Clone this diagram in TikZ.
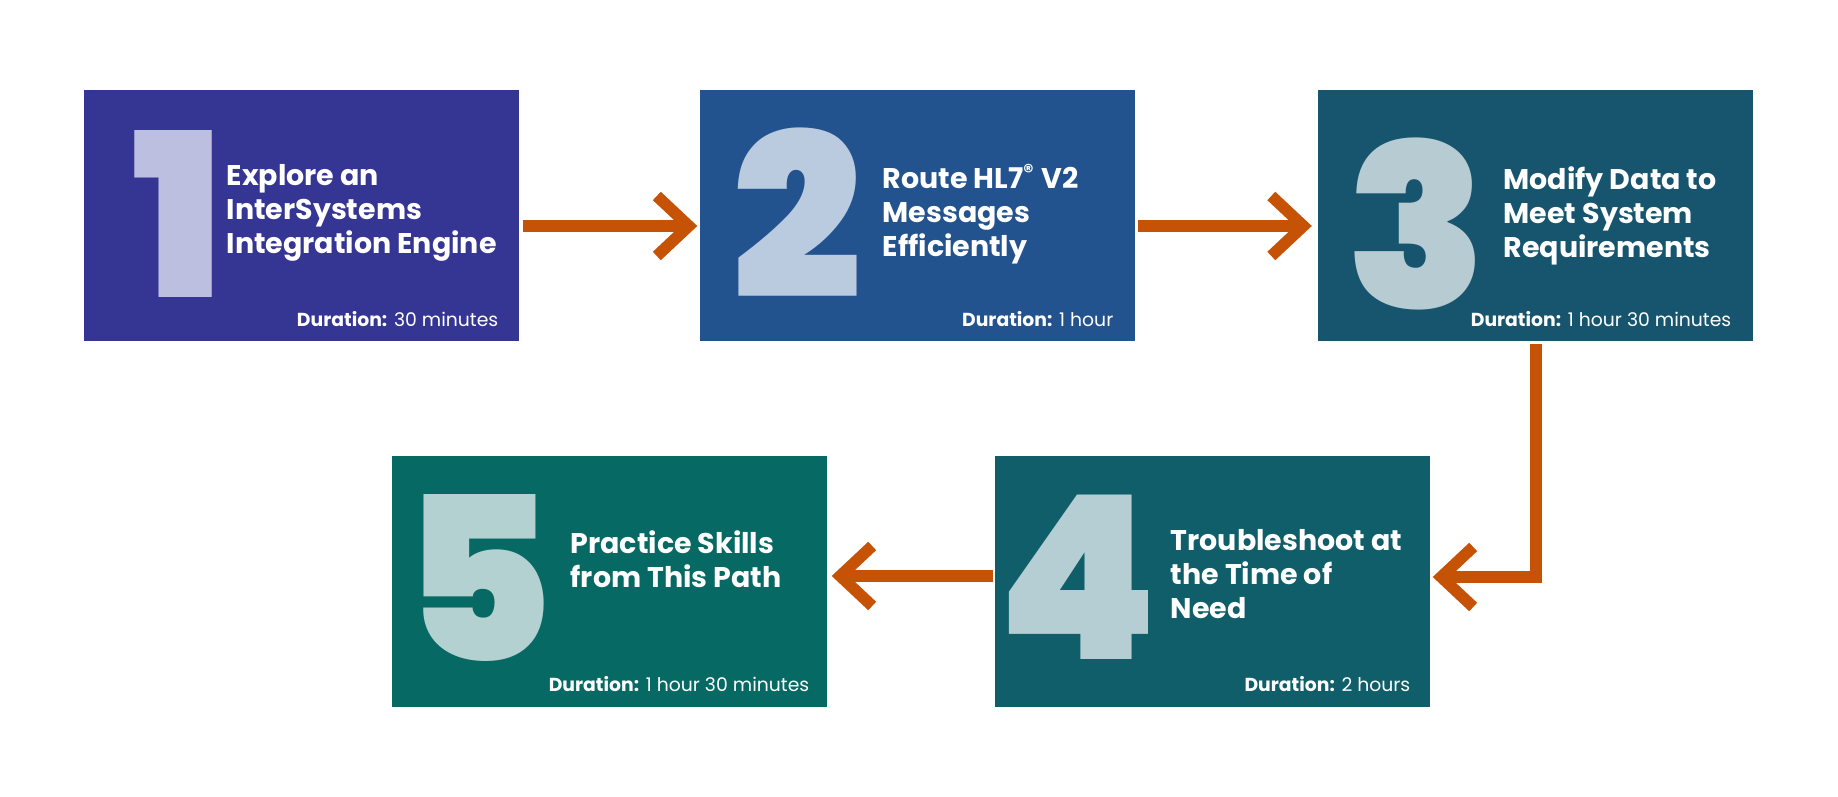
\documentclass[tikz,border=0pt]{standalone}
\usepackage{fontspec}
\setmainfont{Poppins}
\IfFontExistsTF{Poppins Black}
  {\newfontfamily\numfont{Poppins Black}}
  {\newcommand\numfont{\bfseries}}
\usetikzlibrary{arrows.meta}

\definecolor{boxone}{HTML}{353593}
\definecolor{boxtwo}{HTML}{22538F}
\definecolor{boxthree}{HTML}{17556F}
\definecolor{boxfour}{HTML}{0F5E6A}
\definecolor{boxfive}{HTML}{076964}
\definecolor{numone}{HTML}{BDBFE0}
\definecolor{numtwo}{HTML}{BACADF}
\definecolor{numthree}{HTML}{B7CBD2}
\definecolor{numfour}{HTML}{B5CED3}
\definecolor{numfive}{HTML}{B3D1D1}
\definecolor{flowrust}{HTML}{C55205}

\tikzset{
  box/.style = {rectangle, minimum width = 4.35cm, minimum height = 2.51cm, inner sep = 0pt},
  bignum/.style = {anchor = base west, inner sep = 0pt, font = \numfont\fontsize{65}{65}\selectfont},
  title/.style = {anchor = base west, inner sep = 0pt, align = left, text = white,
                  font = \bfseries\fontsize{8.1}{9.8}\selectfont},
  dur/.style = {anchor = base east, inner sep = 0pt, text = white, font = \fontsize{5.35}{6}\selectfont},
  flow/.style = {draw = flowrust, line width = 3.3pt, line join = miter,
                 -{Straight Barb[length = 3.2mm, width = 6.0mm]}}
}

\begin{document}
\begin{tikzpicture}
            \useasboundingbox (0, 0) rectangle (18.38, 7.97);

            % top row
            \node [box, fill = boxone]   (b1) at (3.015, 5.815) {};
            \node [box, fill = boxtwo]   (b2) at (9.175, 5.815) {};
            \node [box, fill = boxthree] (b3) at (15.35, 5.815) {};
            % bottom row
            \node [box, fill = boxfour]  (b4) at (12.125, 2.15) {};
            \node [box, fill = boxfive]  (b5) at (6.095, 2.15) {};

            \node [bignum, text = numone]   (n1) at (1.32, 4.99) {1};
            \node [bignum, text = numtwo]   (n2) at (7.32, 4.98) {2};
            \node [bignum, text = numthree] (n3) at (13.46, 4.88) {3};
            \node [bignum, text = numfour]  (n4) at (9.97, 1.37) {4};
            \node [bignum, text = numfive]  (n5) at (4.02, 1.35) {5};

            % base = last line of each title
            \node [title] (t1) at (2.26, 5.43) {Explore an\\InterSystems\\Integration Engine};
            \node [title] (t2) at (8.82, 5.40) {Route HL7\textsuperscript{®} V2\\Messages\\Efficiently};
            \node [title] (t3) at (15.03, 5.39) {Modify Data to\\Meet System\\Requirements};
            \node [title] (t4) at (11.70, 1.78) {Troubleshoot at\\the Time of\\Need};
            \node [title] (t5) at (5.70, 2.09) {Practice Skills\\from This Path};

            \node [dur] (d1) at (4.99, 4.70) {\textbf{Duration:} 30 minutes};
            \node [dur] (d2) at (11.14, 4.70) {\textbf{Duration:} 1 hour};
            \node [dur] (d3) at (17.32, 4.70) {\textbf{Duration:} 1 hour 30 minutes};
            \node [dur] (d4) at (14.11, 1.05) {\textbf{Duration:} 2 hours};
            \node [dur] (d5) at (8.10, 1.05) {\textbf{Duration:} 1 hour 30 minutes};

            \draw [flow, shorten <= 0.03cm, shorten >= 0.02cm]
                  ([yshift = -0.105cm]b1.east) -- ([yshift = -0.105cm]b2.west); % 1 -> 2
            \draw [flow, shorten <= 0.02cm, shorten >= 0.05cm]
                  ([yshift = -0.105cm]b2.east) -- ([yshift = -0.105cm]b3.west); % 2 -> 3
            \draw [flow, shorten >= 0.02cm]
                  ([xshift = 0.01cm, yshift = -0.02cm]b3.south) |- ([yshift = 0.05cm]b4.east); % 3 -> 4
            \draw [flow, shorten <= 0.01cm, shorten >= 0.04cm]
                  ([yshift = 0.06cm]b4.west) -- ([yshift = 0.06cm]b5.east); % 4 -> 5
        \end{tikzpicture}
\end{document}
